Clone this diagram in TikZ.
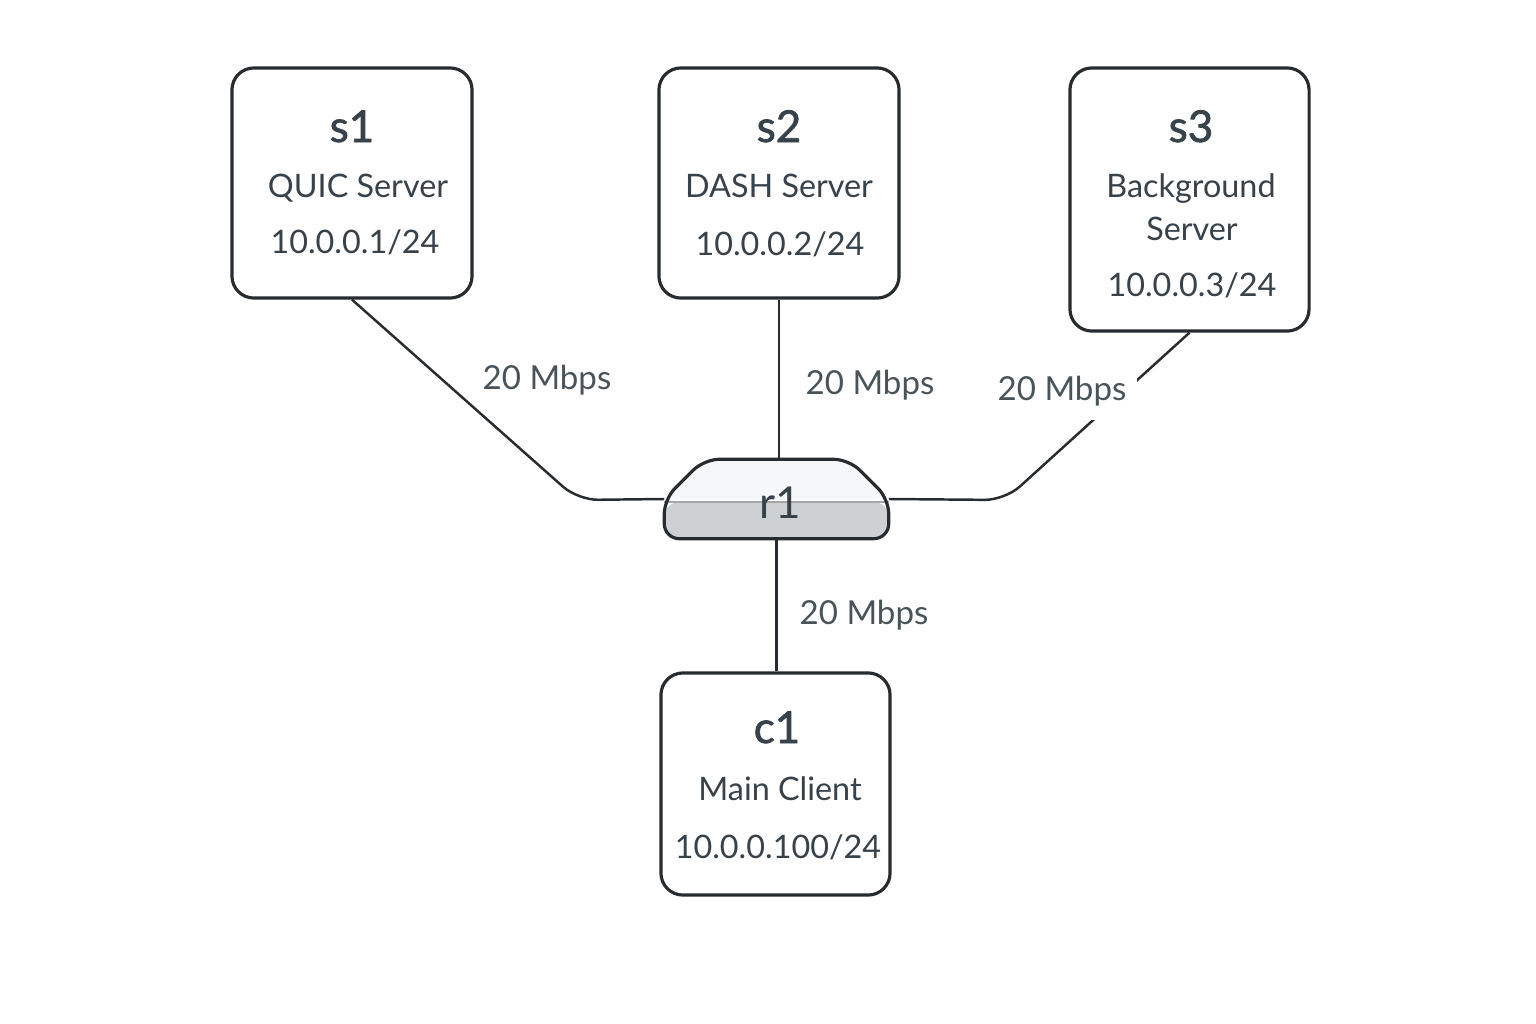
\documentclass[tikz,border=0pt]{standalone}
\usepackage{fontspec}
\setmainfont{Lato}
\newfontfamily\titlefont[FakeBold=1.6]{Lato}
\usepackage{tikz}
\usetikzlibrary{calc,positioning}

\definecolor{edgegray}{HTML}{262C2F}
\definecolor{txtgray}{HTML}{37424A}
\definecolor{lblgray}{HTML}{48545A}
\definecolor{routerfill}{HTML}{CDD1D4}
\definecolor{routertop}{HTML}{F6F7F8}

\tikzset{
	host/.style={draw=edgegray, line width=0.9pt, rounded corners=2.2mm, fill=white, inner sep=0pt},
	hostname/.style={anchor=base, text=txtgray, font=\titlefont\fontsize{12.5}{14}\selectfont},
	hostinfo/.style={anchor=base, text=txtgray, font=\fontsize{9.2}{11}\selectfont},
	link/.style={draw=edgegray, line width=0.7pt, rounded corners=2mm},
	rate/.style={anchor=base, text=lblgray, font=\fontsize{9.4}{11}\selectfont}
}

\begin{document}
\begin{tikzpicture}[x=0.01cm, y=-0.01cm]
		
		\useasboundingbox (0,0) rectangle (1536,1024);
		
		% hosts
		\node[host, minimum width=2.40cm, minimum height=2.30cm] (s1) at (352,183) {};
		\node[host, minimum width=2.40cm, minimum height=2.30cm] (s2) at (779,183) {};
		\node[host, minimum width=2.39cm, minimum height=2.63cm] (s3) at (1189.5,199.5) {};
		\node[host, minimum width=2.29cm, minimum height=2.22cm] (c1) at (775.5,784) {};
		
		% router body
		\node[minimum width=2.23cm, minimum height=0.78cm, inner sep=0pt] (r1) at (776.5,499) {};
		\fill[routertop, rounded corners=1.5mm] (r1.north west) ++(40,0) -- ++(-40,40) |- (r1.east) -- ++(-40,-40) -- cycle;
		\fill[routerfill, rounded corners=1.5mm] ($(r1.west)+(0,3)$) |- (r1.south east) -- ($(r1.east)+(0,3)$) -- cycle;
		\draw[gray!70, line width=0.5pt] ($(r1.west)+(0,3)$) -- ($(r1.east)+(0,3)$);
		\draw[edgegray, line width=0.9pt, rounded corners=1.5mm] ($(r1.north west)+(40,0)$) -- ($(r1.north east)+(-40,0)$) -- (r1.east) -- (r1.south east) -- (r1.south west) -- (r1.west) -- cycle;
		\node[hostname, font=\fontsize{12.5}{14}\selectfont] (r1t) at (780,518) {r1};
		
		% links
		\coordinate (b1) at (578,500);
		\coordinate (b3) at (1005,500);
		\draw[link] (s1.south) -- (b1) -- (r1.west);
		\draw[link] (s2.south) -- (s2.south |- r1.north);
		\draw[link] (s3.south) -- (b3) -- (r1.east);
		\draw[link] (r1.south) -- (r1.south |- c1.north);
		
		% rates
		\node[rate] (l1) at (547,389) {20 Mbps};
		\node[rate] (l2) at (870,394) {20 Mbps};
		\node[rate, fill=white, inner xsep=1.1mm, inner ysep=2mm, text depth=0pt] (l3) at (1062,400) {20 Mbps};
		\node[rate] (l4) at (864,624) {20 Mbps};
		
		% labels
		\node[hostname] (s1a) at (352,142) {s1};
		\node[hostinfo] (s1b) at (358,197) {QUIC Server};
		\node[hostinfo] (s1c) at (355,253) {10.0.0.1/24};
		
		\node[hostname] (s2a) at (779,142) {s2};
		\node[hostinfo] (s2b) at (779,197) {DASH Server};
		\node[hostinfo] (s2c) at (780,255) {10.0.0.2/24};
		
		\node[hostname] (s3a) at (1191,142) {s3};
		\node[hostinfo] (s3b) at (1191,197) {Background};
		\node[hostinfo] (s3c) at (1192,240) {Server};
		\node[hostinfo] (s3d) at (1192,296) {10.0.0.3/24};
		
		\node[hostname] (c1a) at (777,743) {c1};
		\node[hostinfo] (c1b) at (780,800) {Main Client};
		\node[hostinfo] (c1c) at (778,858) {10.0.0.100/24};
	\end{tikzpicture}
\end{document}
